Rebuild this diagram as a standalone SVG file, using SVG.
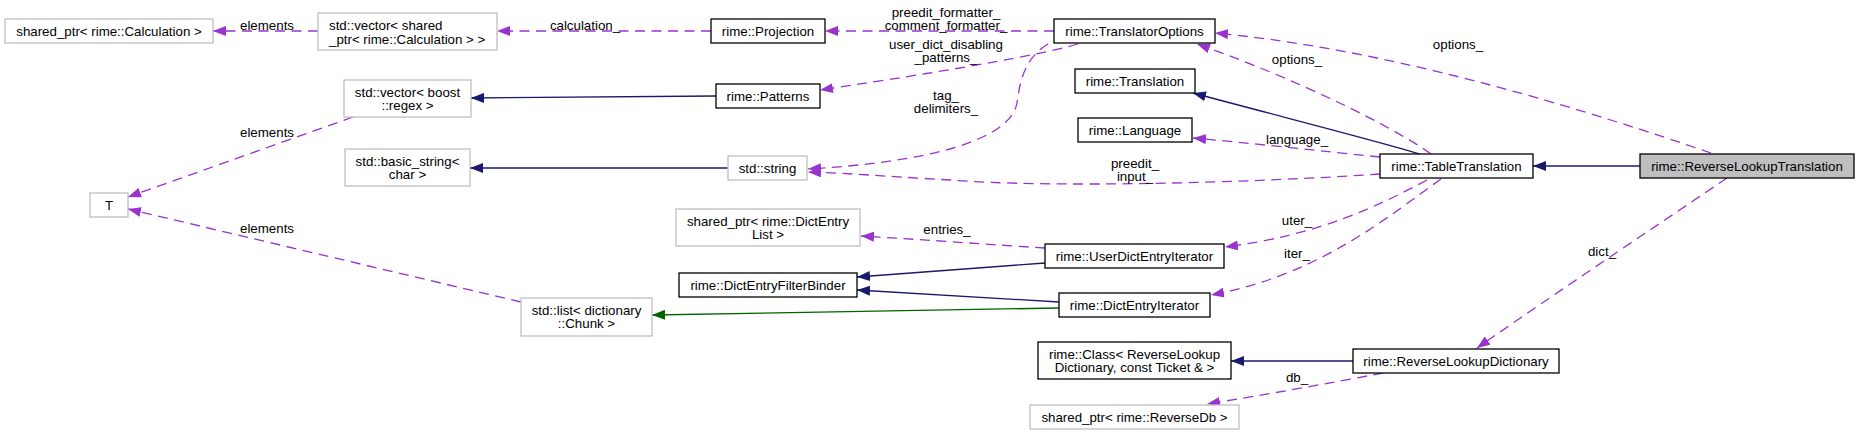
<svg xmlns="http://www.w3.org/2000/svg" width="1859" height="435" viewBox="0 0 1859 435">
<style>
text{font-family:"Liberation Sans",Arial,Helvetica,sans-serif;font-size:13.3px;fill:#000;text-anchor:middle}
.nd rect{fill:#fff;stroke:#000;stroke-width:1.3}
.gr rect{stroke:#bfbfbf}
.cur rect{fill:#bfbfbf}
.ed path{fill:none;stroke-width:1.3}
.u{stroke:#9a32cd;stroke-dasharray:10,6.5}
.i{stroke:#191970}
.p{stroke:#006400}
</style>
<defs>
<marker id="mu" viewBox="0 0 13 10" refX="13" refY="5" markerWidth="13" markerHeight="10" markerUnits="userSpaceOnUse" orient="auto"><path d="M0,0 L13,5 L0,10 z" fill="#9a32cd"/></marker>
<marker id="mi" viewBox="0 0 13 10" refX="13" refY="5" markerWidth="13" markerHeight="10" markerUnits="userSpaceOnUse" orient="auto"><path d="M0,0 L13,5 L0,10 z" fill="#191970"/></marker>
<marker id="mp" viewBox="0 0 13 10" refX="13" refY="5" markerWidth="13" markerHeight="10" markerUnits="userSpaceOnUse" orient="auto"><path d="M0,0 L13,5 L0,10 z" fill="#006400"/></marker>
</defs>
<rect width="1859" height="435" fill="#fff"/>
<g id="edges" class="ed">
<path class="u" d="M318,31 L213,31" marker-end="url(#mu)"/>
<path class="u" d="M711,31 L497,31" marker-end="url(#mu)"/>
<path class="u" d="M1054,31 L825,31" marker-end="url(#mu)"/>
<path class="u" d="M1078,44 C1030,58 900,78 820,90" marker-end="url(#mu)"/>
<path class="u" d="M1048,44 C1025,58 1020,80 1017,103 C1010,140 930,162 808,169" marker-end="url(#mu)"/>
<path class="u" d="M1380,174 C1250,183 1050,188 950,180 C880,176 845,173 808,172" marker-end="url(#mu)"/>
<path class="u" d="M1431,154 C1395,128 1300,80 1197,44" marker-end="url(#mu)"/>
<path class="u" d="M1711,153 C1600,115 1400,50 1215,33" marker-end="url(#mu)"/>
<path class="i" d="M1420,154 C1370,139 1290,119 1193,93" marker-end="url(#mi)"/>
<path class="u" d="M1380,157 C1320,151 1250,143 1193,138" marker-end="url(#mu)"/>
<path class="i" d="M1640,166 L1533,166" marker-end="url(#mi)"/>
<path class="u" d="M1427,180 C1380,205 1320,235 1225,247" marker-end="url(#mu)"/>
<path class="u" d="M1441,179 C1390,215 1320,275 1211,295" marker-end="url(#mu)"/>
<path class="u" d="M1045,248 C995,245 930,240 861,236" marker-end="url(#mu)"/>
<path class="i" d="M1045,263 L857,277" marker-end="url(#mi)"/>
<path class="i" d="M1059,302 L857,290" marker-end="url(#mi)"/>
<path class="p" d="M1059,308 L652,315" marker-end="url(#mp)"/>
<path class="u" d="M521,302 L128,209" marker-end="url(#mu)"/>
<path class="u" d="M353,117 L128,197" marker-end="url(#mu)"/>
<path class="i" d="M716,96 L471,98" marker-end="url(#mi)"/>
<path class="i" d="M728,168 L470,168" marker-end="url(#mi)"/>
<path class="u" d="M1727,178 C1680,210 1560,290 1477,348" marker-end="url(#mu)"/>
<path class="i" d="M1353,361 L1231,361" marker-end="url(#mi)"/>
<path class="u" d="M1383,373 C1330,383 1270,394 1207,404" marker-end="url(#mu)"/>
</g>
<g id="edge-labels">
<text x="267" y="29.5">elements</text>
<text x="585" y="29.5">calculation_</text>
<text x="946" y="16.5">preedit_formatter_</text>
<text x="946" y="29.5">comment_formatter_</text>
<text x="946" y="48.5">user_dict_disabling</text>
<text x="946" y="61.5">_patterns_</text>
<text x="946" y="99.5">tag_</text>
<text x="946" y="112.5">delimiters_</text>
<text x="947" y="233.5">entries_</text>
<text x="267" y="136.5">elements</text>
<text x="267" y="232.5">elements</text>
<text x="1297" y="63.5">options_</text>
<text x="1458" y="48.5">options_</text>
<text x="1297" y="143.5">language_</text>
<text x="1135" y="167.5">preedit_</text>
<text x="1135" y="180.5">input_</text>
<text x="1297" y="224.5">uter_</text>
<text x="1297" y="257.5">iter_</text>
<text x="1297" y="381.5">db_</text>
<text x="1602" y="255.5">dict_</text>
</g>
<g id="n-shared-calc" class="nd gr"><rect x="5" y="19" width="208" height="24"/><text x="109" y="35.5">shared_ptr&lt; rime::Calculation &gt;</text></g>
<g id="n-vec-shared" class="nd gr"><rect x="318" y="13" width="179" height="37"/><text x="329" y="29.5" style="text-anchor:start">std::vector&lt; shared</text><text x="329" y="43.5" style="text-anchor:start">_ptr&lt; rime::Calculation &gt; &gt;</text></g>
<g id="n-vec-regex" class="nd gr"><rect x="344" y="80" width="127" height="37"/><text x="407.5" y="96.5">std::vector&lt; boost</text><text x="407.5" y="109.5">::regex &gt;</text></g>
<g id="n-basic-string" class="nd gr"><rect x="345" y="149" width="125" height="37"/><text x="407.5" y="165.5">std::basic_string&lt;</text><text x="407.5" y="178.5">char &gt;</text></g>
<g id="n-T" class="nd gr"><rect x="90" y="193" width="38" height="24"/><text x="109" y="209.5">T</text></g>
<g id="n-projection" class="nd"><rect x="711" y="19" width="114" height="24"/><text x="768" y="35.5">rime::Projection</text></g>
<g id="n-patterns" class="nd"><rect x="716" y="84" width="104" height="24"/><text x="768" y="100.5">rime::Patterns</text></g>
<g id="n-string" class="nd gr"><rect x="728" y="156" width="79" height="24"/><text x="767.5" y="172.5">std::string</text></g>
<g id="n-shared-dictentry" class="nd gr"><rect x="676" y="209" width="184" height="37"/><text x="768" y="225.5">shared_ptr&lt; rime::DictEntry</text><text x="768" y="238.5">List &gt;</text></g>
<g id="n-filterbinder" class="nd"><rect x="679" y="273" width="178" height="24"/><text x="768" y="289.5">rime::DictEntryFilterBinder</text></g>
<g id="n-list-chunk" class="nd gr"><rect x="521" y="298" width="131" height="38"/><text x="586.5" y="315">std::list&lt; dictionary</text><text x="586.5" y="328">::Chunk &gt;</text></g>
<g id="n-translatoroptions" class="nd"><rect x="1054" y="19" width="161" height="24"/><text x="1134.5" y="35.5">rime::TranslatorOptions</text></g>
<g id="n-translation" class="nd"><rect x="1075" y="69" width="120" height="24"/><text x="1135" y="85.5">rime::Translation</text></g>
<g id="n-language" class="nd"><rect x="1078" y="118" width="114" height="24"/><text x="1135" y="134.5">rime::Language</text></g>
<g id="n-userdictentryiterator" class="nd"><rect x="1045" y="244" width="179" height="24"/><text x="1134.5" y="260.5">rime::UserDictEntryIterator</text></g>
<g id="n-dictentryiterator" class="nd"><rect x="1059" y="293" width="151" height="24"/><text x="1134.5" y="309.5">rime::DictEntryIterator</text></g>
<g id="n-class" class="nd"><rect x="1038" y="342" width="193" height="37"/><text x="1134.5" y="358.5">rime::Class&lt; ReverseLookup</text><text x="1134.5" y="372">Dictionary, const Ticket &amp; &gt;</text></g>
<g id="n-shared-reversedb" class="nd gr"><rect x="1030" y="405" width="209" height="24"/><text x="1134.5" y="421.5">shared_ptr&lt; rime::ReverseDb &gt;</text></g>
<g id="n-tabletranslation" class="nd"><rect x="1380" y="154" width="153" height="24"/><text x="1456.5" y="170.5">rime::TableTranslation</text></g>
<g id="n-reverselookupdictionary" class="nd"><rect x="1353" y="349" width="206" height="24"/><text x="1456" y="365.5">rime::ReverseLookupDictionary</text></g>
<g id="n-reverselookuptranslation" class="nd cur"><rect x="1640" y="154" width="214" height="24"/><text x="1747" y="170.5">rime::ReverseLookupTranslation</text></g>
</svg>
